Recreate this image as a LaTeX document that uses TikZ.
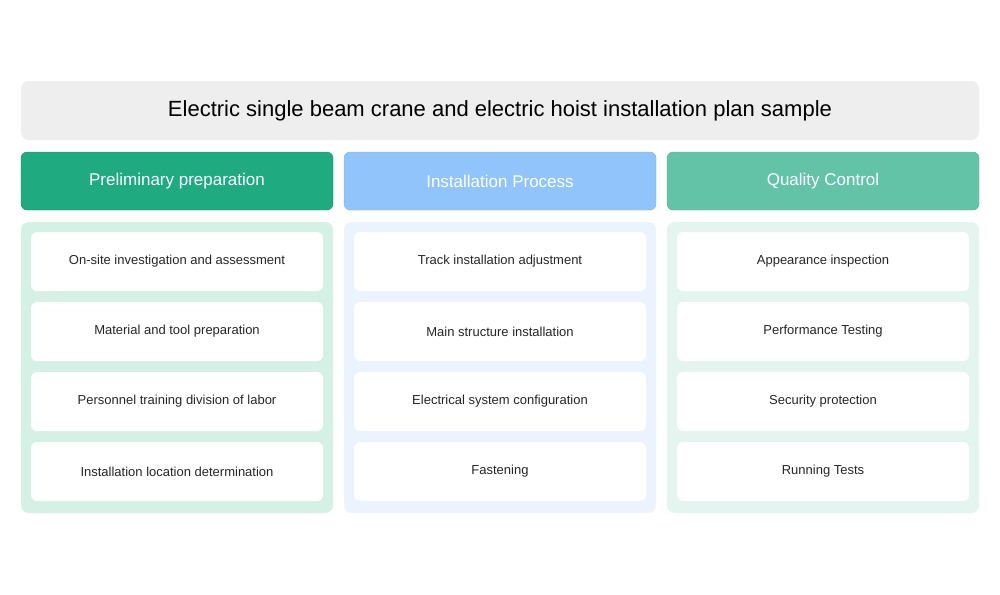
\documentclass[tikz,border=0pt]{standalone}
\usepackage{fontspec}
\setmainfont{Liberation Sans}
\definecolor{titlebg}{HTML}{EEEEEE}
\definecolor{hA}{HTML}{1FAA80}
\definecolor{hB}{HTML}{90C4FA}
\definecolor{hC}{HTML}{62C3A6}
\definecolor{pA}{HTML}{D5F0E5}
\definecolor{pB}{HTML}{EAF3FE}
\definecolor{pC}{HTML}{E3F5EE}
\definecolor{hdA}{HTML}{1A9A73}
\definecolor{hdB}{HTML}{7FB6F0}
\definecolor{hdC}{HTML}{55B598}
\begin{document}
\begin{tikzpicture}[x=1pt,y=-1pt,
  header/.style={rounded corners=6pt,minimum width=312pt,minimum height=58pt,text=white,font=\fontsize{17}{20}\selectfont,inner sep=0pt},
  panel/.style={rounded corners=8pt,minimum width=312pt,minimum height=291pt,inner sep=0pt},
  item/.style={fill=white,rounded corners=6pt,minimum width=292pt,minimum height=59pt,font=\fontsize{13}{15}\selectfont,text=black!85,inner sep=0pt}]
\useasboundingbox (0,0) rectangle (1000,594);
\fill[white] (0,0) rectangle (1000,594);
\node[fill=titlebg,rounded corners=8pt,minimum width=958pt,minimum height=59pt,inner sep=0pt,font=\fontsize{22}{26}\selectfont] (title) at (500,110.5) {Electric single beam crane and electric hoist installation plan sample};
\node[header,fill=hA,draw=hdA] (hA) at (177,181) {Preliminary preparation};
\node[header,fill=hB,draw=hdB] (hB) at (500,181) {Installation Process};
\node[header,fill=hC,draw=hdC] (hC) at (823,181) {Quality Control};
\node[panel,fill=pA] (pA) at (177,367.5) {};
\node[panel,fill=pB] (pB) at (500,367.5) {};
\node[panel,fill=pC] (pC) at (823,367.5) {};
\node[item] (a1) at (177,261.5) {On-site investigation and assessment};
\node[item] (a2) at (177,331.5) {Material and tool preparation};
\node[item] (a3) at (177,401.5) {Personnel training division of labor};
\node[item] (a4) at (177,471.5) {Installation location determination};
\node[item] (b1) at (500,261.5) {Track installation adjustment};
\node[item] (b2) at (500,331.5) {Main structure installation};
\node[item] (b3) at (500,401.5) {Electrical system configuration};
\node[item] (b4) at (500,471.5) {Fastening};
\node[item] (c1) at (823,261.5) {Appearance inspection};
\node[item] (c2) at (823,331.5) {Performance Testing};
\node[item] (c3) at (823,401.5) {Security protection};
\node[item] (c4) at (823,471.5) {Running Tests};
\end{tikzpicture}
\end{document}
